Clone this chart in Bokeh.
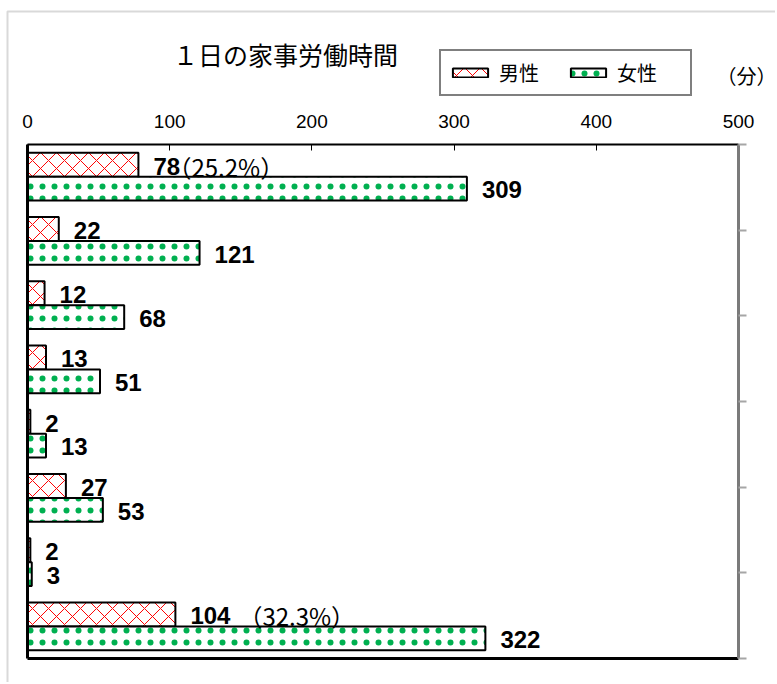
import numpy as np
from bokeh.plotting import figure
from bokeh.models import (ColumnDataSource, Range1d, LinearAxis, FixedTicker,
                          Label, Legend, LegendItem, BoxAnnotation)
from bokeh.transform import dodge
from bokeh.core.properties import value
from bokeh.embed import file_html
from bokeh.resources import INLINE

# ---- data ----
title_text = "１日の家事労働時間"
series_names = ["男性", "女性"]
male = [78, 22, 12, 13, 2, 27, 2, 104]
female = [309, 121, 68, 51, 13, 53, 3, 322]
male_pct = ["（25.2%）", "", "", "", "", "", "", "（32.3%）"]
x_ticks = [0, 100, 200, 300, 400, 500]
unit_label = "（分）"

# ---- styling lists ----
pct_offsets = [29, 0, 0, 0, 0, 0, 0, 63]

n = len(male)
pos = list(np.arange(n) + 0.5)
src = ColumnDataSource(dict(
    pos=pos, male=male, female=female,
    male_lbl=[str(v) for v in male], female_lbl=[str(v) for v in female],
    pct=male_pct, pct_off=pct_offsets,
))

# ---- layout (pixels) ----
W, H = 775, 682
PX0, PX500 = 27, 738     # where x=0 and x=500 fall
PY0, PY8 = 144, 658      # top and bottom of the plotting box
XMAX = x_ticks[-1]
sx = (PX500 - PX0) / XMAX
sy = (PY8 - PY0) / n
x_start = -PX0 / sx
x_end = XMAX + (W - PX500) / sx
y_top = -PY0 / sy
y_bottom = n + (H - PY8) / sy

p = figure(width=W, height=H, x_range=Range1d(x_start, x_end),
           y_range=Range1d(y_bottom, y_top),
           output_backend="svg", toolbar_location=None,
           x_axis_location=None, y_axis_location=None, min_border=0)
p.grid.visible = False
p.outline_line_color = None
p.background_fill_color = "white"
p.border_fill_color = "white"

# outer chart frame (gray)
p.add_layout(BoxAnnotation(left=(7 - PX0) / sx, right=x_end + 50,
                           top=(11 - PY0) / sy, bottom=y_bottom + 2,
                           fill_color=None, line_color="#808080", line_width=2))

# top axis
xa = LinearAxis(fixed_location=0, bounds=(0, XMAX), ticker=FixedTicker(ticks=x_ticks),
                major_tick_in=6, major_tick_out=0, minor_tick_line_color=None,
                axis_line_width=2, axis_line_color="black",
                major_tick_line_color="black", major_tick_line_width=1,
                major_label_standoff=17, major_label_text_font="Liberation Sans",
                major_label_text_font_size="19px", major_label_text_color="black")
p.add_layout(xa, "above")

# left black line
ya = LinearAxis(fixed_location=0, bounds=(0, n), ticker=FixedTicker(ticks=[]),
                axis_line_width=3, axis_line_color="black",
                major_tick_line_color=None, minor_tick_line_color=None)
p.add_layout(ya, "left")

# bottom black line
xb = LinearAxis(fixed_location=n, bounds=(0, XMAX), ticker=FixedTicker(ticks=[]),
                axis_line_width=3, axis_line_color="black",
                major_tick_line_color=None, minor_tick_line_color=None)
p.add_layout(xb, "below")

# right gray axis with outward ticks
yr = LinearAxis(fixed_location=XMAX, bounds=(0, n),
                ticker=FixedTicker(ticks=list(np.linspace(0, n, 7))),
                axis_line_color="#7a7a7a", axis_line_width=3,
                major_tick_line_color="#a6a6a6", major_tick_line_width=2,
                major_tick_out=8, major_tick_in=0, minor_tick_line_color=None,
                major_label_text_color=None)
p.add_layout(yr, "right")

bar_h = 0.37
off = 0.185
rm = p.hbar(y=dodge("pos", -off, range=p.y_range), right="male", left=0, height=bar_h,
            source=src, fill_color="white", hatch_pattern="diagonal_cross",
            hatch_color="#ff0000", hatch_scale=16, hatch_weight=1,
            line_color="black", line_width=2)
rf = p.hbar(y=dodge("pos", off, range=p.y_range), right="female", left=0, height=bar_h,
            source=src, fill_color="white", hatch_pattern="dot",
            hatch_color="#00b050", hatch_scale=12, hatch_weight=1.0,
            line_color="black", line_width=2)

num_font = value("Liberation Sans")
p.text(x="male", y=dodge("pos", -off + 0.02, range=p.y_range), text="male_lbl", source=src,
       x_offset=15, text_baseline="middle", text_font=num_font, text_font_style="bold",
       text_font_size="24px", text_color="black")
p.text(x="female", y=dodge("pos", off + 0.02, range=p.y_range), text="female_lbl", source=src,
       x_offset=15, text_baseline="middle", text_font=num_font, text_font_style="bold",
       text_font_size="24px", text_color="black")
p.text(x="male", y=dodge("pos", -off + 0.02, range=p.y_range), text="pct", source=src,
       x_offset="pct_off", text_baseline="middle", text_font=value("Noto Sans CJK JP"),
       text_font_size="24px", text_color="black")

# title and unit
p.add_layout(Label(x=(285 - PX0) / sx, y=(53 - PY0) / sy, text=title_text,
                   text_align="center", text_baseline="middle",
                   text_font="Noto Sans CJK JP", text_font_size="25px",
                   text_color="black"))
p.add_layout(Label(x=(716 - PX0) / sx, y=(75 - PY0) / sy, text=unit_label,
                   text_align="left", text_baseline="middle",
                   text_font="Noto Sans CJK JP", text_font_size="20px",
                   text_color="black"))

legend = Legend(items=[LegendItem(label=series_names[0], renderers=[rm]),
                       LegendItem(label=series_names[1], renderers=[rf])],
                location=(439, H - 96), orientation="horizontal",
                border_line_color="black", border_line_width=2,
                background_fill_color="white", background_fill_alpha=1,
                label_text_font="Noto Sans CJK JP", label_text_font_size="20px",
                label_text_color="black",
                glyph_width=44, glyph_height=11, label_standoff=7,
                label_width=66, label_height=15, spacing=1, padding=7, margin=0)
p.add_layout(legend)

open("out.html", "w").write(file_html(p, INLINE))
